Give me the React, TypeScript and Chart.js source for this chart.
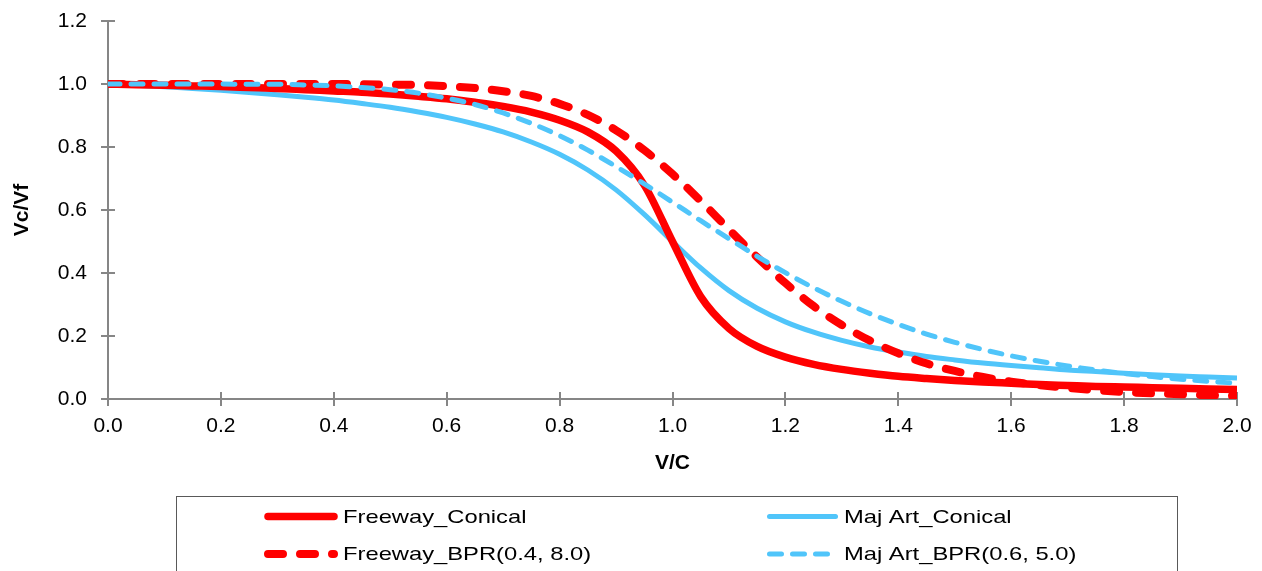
import React, { useEffect, useRef } from 'react';
import { Chart, registerables } from 'chart.js';

Chart.register(...registerables);

// ---- data ----
const vcRatio = [
  0.0, 0.05, 0.1, 0.15, 0.2, 0.25, 0.3, 0.35, 0.4, 0.45,
  0.5, 0.55, 0.6, 0.65, 0.7, 0.75, 0.8, 0.85, 0.9, 0.95,
  1.0, 1.05, 1.1, 1.15, 1.2, 1.25, 1.3, 1.35, 1.4, 1.45,
  1.5, 1.55, 1.6, 1.65, 1.7, 1.75, 1.8, 1.85, 1.9, 1.95, 2.0,
];

const freewayConical = [
  1.000, 0.998, 0.996, 0.994, 0.992, 0.989, 0.986, 0.982, 0.978, 0.974,
  0.968, 0.961, 0.953, 0.942, 0.929, 0.911, 0.885, 0.848, 0.787, 0.679,
  0.500, 0.325, 0.224, 0.167, 0.133, 0.110, 0.094, 0.082, 0.072, 0.065,
  0.059, 0.054, 0.050, 0.046, 0.043, 0.040, 0.038, 0.036, 0.034, 0.032, 0.030,
];

const majArtConical = [
  1.000, 0.996, 0.991, 0.986, 0.980, 0.973, 0.966, 0.958, 0.949, 0.938,
  0.926, 0.911, 0.894, 0.873, 0.848, 0.816, 0.777, 0.727, 0.664, 0.586,
  0.500, 0.416, 0.344, 0.288, 0.245, 0.212, 0.186, 0.165, 0.149, 0.135,
  0.124, 0.114, 0.106, 0.099, 0.092, 0.087, 0.082, 0.077, 0.073, 0.070, 0.067,
];

const freewayBPR = [
  1.000, 1.000, 1.000, 1.000, 1.000, 1.000, 1.000, 1.000, 1.000, 0.999,
  0.998, 0.997, 0.993, 0.987, 0.977, 0.962, 0.937, 0.902, 0.853, 0.790,
  0.714, 0.629, 0.538, 0.450, 0.368, 0.295, 0.235, 0.185, 0.145, 0.113,
  0.089, 0.070, 0.055, 0.044, 0.035, 0.028, 0.022, 0.018, 0.015, 0.012, 0.010,
];

const majArtBPR = [
  1.000, 1.000, 1.000, 1.000, 1.000, 0.999, 0.999, 0.997, 0.994, 0.989,
  0.982, 0.971, 0.955, 0.935, 0.908, 0.875, 0.836, 0.790, 0.738, 0.683,
  0.625, 0.566, 0.509, 0.453, 0.401, 0.353, 0.310, 0.271, 0.237, 0.206,
  0.180, 0.157, 0.137, 0.120, 0.105, 0.092, 0.081, 0.071, 0.063, 0.056, 0.050,
];

const xTickValues = [0, 0.2, 0.4, 0.6, 0.8, 1.0, 1.2, 1.4, 1.6, 1.8, 2.0];
const yTickValues = [0, 0.2, 0.4, 0.6, 0.8, 1.0, 1.2];

const seriesNames = [
  'Freeway_Conical',
  'Maj Art_Conical',
  'Freeway_BPR(0.4, 8.0)',
  'Maj Art_BPR(0.6, 5.0)',
];

const xTitle = 'V/C';
const yTitle = 'Vc/Vf';

// ---- styles ----
const RED = '#FF0000';
const BLUE = '#50C5FA';
const AXIS = '#868686';
const FONT = '"Liberation Sans", Arial, sans-serif';

const W = 1262;
const H = 571;

function toPoints(vals: number[]) {
  return vals.map((v, i) => ({ x: vcRatio[i], y: v }));
}

const tickMarksPlugin = {
  id: 'tickMarks',
  beforeDatasetsDraw(chart: any) {
    const { ctx, scales } = chart;
    const xs = scales.x;
    const ys = scales.y;
    ctx.save();
    ctx.strokeStyle = AXIS;
    ctx.lineWidth = 2;
    ctx.beginPath();
    xs.ticks.forEach((t: any) => {
      const px = Math.round(xs.getPixelForValue(t.value));
      ctx.moveTo(px, ys.bottom - 7);
      ctx.lineTo(px, ys.bottom + 7);
    });
    ys.ticks.forEach((t: any) => {
      const py = Math.round(ys.getPixelForValue(t.value));
      ctx.moveTo(xs.left - 7, py);
      ctx.lineTo(xs.left + 7, py);
    });
    ctx.stroke();
    ctx.restore();
  },
};

const legendPlugin = {
  id: 'boxLegend',
  afterDraw(chart: any) {
    const { ctx } = chart;
    ctx.save();
    ctx.strokeStyle = '#595959';
    ctx.lineWidth = 1;
    ctx.strokeRect(176.5, 496.5, 1001, 120);

    const entries = [
      { name: seriesNames[0], ds: 2, sx: 268, ex: 334, ty: 523, ly: 516.5, tx: 343 },
      { name: seriesNames[1], ds: 3, sx: 769.5, ex: 835.5, ty: 523, ly: 516.5, tx: 844 },
      { name: seriesNames[2], ds: 1, sx: 268, ex: 334, ty: 560, ly: 554, tx: 343 },
      { name: seriesNames[3], ds: 0, sx: 769.5, ex: 835.5, ty: 560, ly: 554, tx: 844 },
    ];
    entries.forEach((e) => {
      const d: any = chart.data.datasets[e.ds];
      ctx.save();
      ctx.strokeStyle = d.borderColor;
      ctx.lineWidth = d.borderWidth;
      ctx.lineCap = 'round';
      ctx.setLineDash(d.borderDash || []);
      ctx.beginPath();
      ctx.moveTo(e.sx, e.ly);
      ctx.lineTo(e.ex, e.ly);
      ctx.stroke();
      ctx.restore();

      ctx.save();
      ctx.fillStyle = '#000';
      ctx.font = `19px ${FONT}`;
      ctx.textBaseline = 'alphabetic';
      ctx.textAlign = 'left';
      ctx.translate(e.tx, e.ty);
      ctx.scale(1.25, 1);
      ctx.fillText(e.name, 0, 0);
      ctx.restore();
    });
    ctx.restore();
  },
};

export default function App() {
  const canvasRef = useRef<HTMLCanvasElement | null>(null);

  useEffect(() => {
    const canvas = canvasRef.current;
    if (!canvas) return;
    const chart = new Chart(canvas, {
      type: 'line',
      data: {
        datasets: [
          {
            label: seriesNames[3],
            data: toPoints(majArtBPR),
            borderColor: BLUE,
            backgroundColor: BLUE,
            borderWidth: 5,
            borderDash: [12, 11],
            borderCapStyle: 'round',
            cubicInterpolationMode: 'monotone',
            pointRadius: 0,
            fill: false,
          },
          {
            label: seriesNames[2],
            data: toPoints(freewayBPR),
            borderColor: RED,
            backgroundColor: RED,
            borderWidth: 8,
            borderDash: [15, 17],
            borderCapStyle: 'round',
            cubicInterpolationMode: 'monotone',
            pointRadius: 0,
            fill: false,
          },
          {
            label: seriesNames[0],
            data: toPoints(freewayConical),
            borderColor: RED,
            backgroundColor: RED,
            borderWidth: 7.5,
            borderCapStyle: 'butt',
            cubicInterpolationMode: 'monotone',
            pointRadius: 0,
            fill: false,
          },
          {
            label: seriesNames[1],
            data: toPoints(majArtConical),
            borderColor: BLUE,
            backgroundColor: BLUE,
            borderWidth: 5,
            borderCapStyle: 'butt',
            cubicInterpolationMode: 'monotone',
            pointRadius: 0,
            fill: false,
          },
        ],
      } as any,
      options: {
        responsive: false,
        animation: false,
        devicePixelRatio: 1,
        layout: { padding: { left: 0, top: 21, right: 25, bottom: 92 } },
        plugins: {
          legend: { display: false },
          tooltip: { enabled: false },
        },
        scales: {
          x: {
            type: 'linear',
            min: 0,
            max: 2,
            afterBuildTicks: (s: any) => {
              s.ticks = xTickValues.map((v) => ({ value: v }));
            },
            afterFit: (s: any) => {
              s.height = 80;
              s.paddingLeft = 0;
              s.paddingRight = 0;
            },
            grid: { display: true, drawOnChartArea: false, drawTicks: false },
            border: { display: true, color: AXIS, width: 2 },
            ticks: {
              padding: 15,
              color: '#000',
              font: { family: FONT, size: 21 },
              maxRotation: 0,
              autoSkip: false,
              callback: (v: any) => Number(v).toFixed(1),
            },
            title: {
              display: true,
              text: xTitle,
              color: '#000',
              font: { family: FONT, size: 21, weight: 'bold' },
              padding: { top: 0, bottom: 3 },
            },
          },
          y: {
            type: 'linear',
            min: 0,
            max: 1.2,
            afterBuildTicks: (s: any) => {
              s.ticks = yTickValues.map((v) => ({ value: v }));
            },
            afterFit: (s: any) => {
              s.width = 108;
              s.paddingTop = 0;
              s.paddingBottom = 0;
            },
            grid: { display: true, drawOnChartArea: false, drawTicks: false },
            border: { display: true, color: AXIS, width: 2 },
            ticks: {
              padding: 21,
              color: '#000',
              font: { family: FONT, size: 21 },
              autoSkip: false,
              callback: (v: any) => Number(v).toFixed(1),
            },
            title: {
              display: true,
              text: yTitle,
              color: '#000',
              font: { family: FONT, size: 21, weight: 'bold' },
              padding: { top: 10, bottom: 0 },
            },
          },
        },
      } as any,
      plugins: [tickMarksPlugin, legendPlugin],
    });
    return () => {
      chart.destroy();
    };
  }, []);

  return (
    <div
      style={{
        position: 'absolute',
        left: 0,
        top: 0,
        width: W,
        height: H,
        background: '#fff',
        overflow: 'hidden',
      }}
    >
      <canvas ref={canvasRef} width={W} height={H} style={{ display: 'block', width: W, height: H }} />
    </div>
  );
}
